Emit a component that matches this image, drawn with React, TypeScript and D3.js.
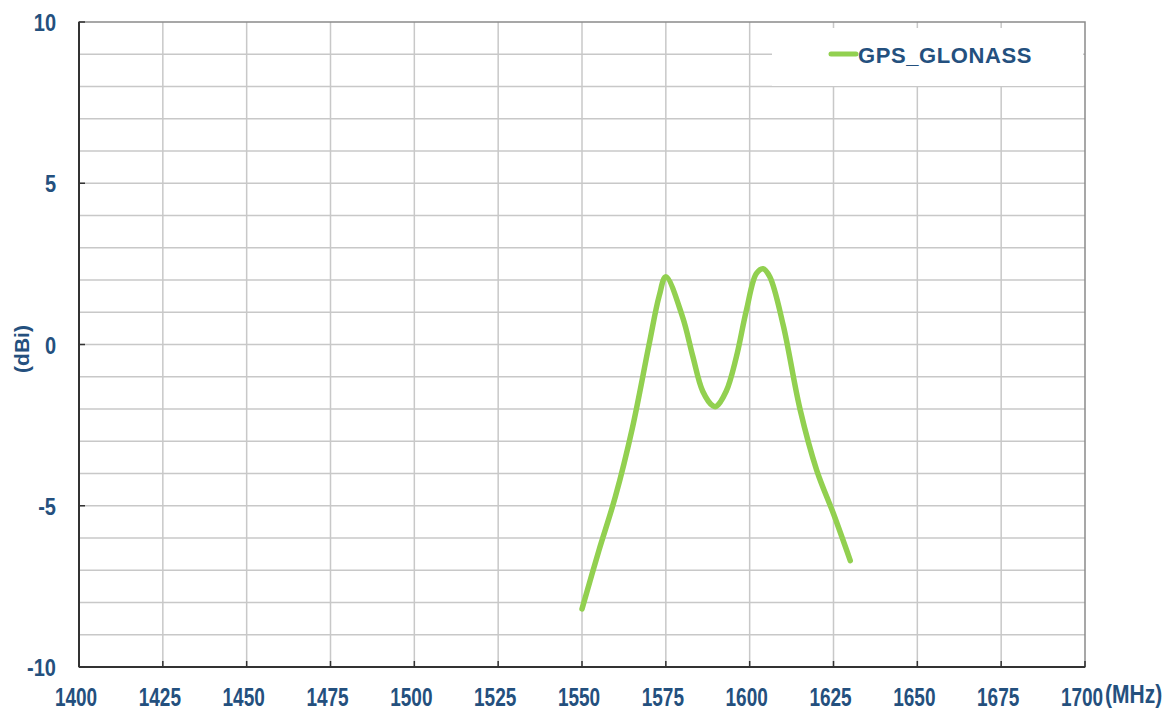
import { useEffect, useRef } from 'react';
import * as d3 from 'd3';

const frequencies = [
  1550, 1555, 1560, 1565, 1570, 1573, 1575, 1580, 1583, 1586, 1589, 1590, 1593, 1596, 1599,
  1602, 1604, 1606, 1610, 1615, 1620, 1625, 1630,
];
const gainValues = [
  -8.2, -6.4, -4.7, -2.6, 0.0, 1.5, 2.1, 0.85, -0.35, -1.45, -1.9, -1.92, -1.45, -0.4, 1.05,
  2.2, 2.35, 2.1, 0.6, -2.0, -3.9, -5.25, -6.7,
];
const seriesName = 'GPS_GLONASS';
const xTicks = [1400, 1425, 1450, 1475, 1500, 1525, 1550, 1575, 1600, 1625, 1650, 1675, 1700];
const yTicks = [10, 5, 0, -5, -10];

const TEXT = '#24507e';
const GREEN = '#92d050';
const FONT = "'Liberation Sans', Arial, sans-serif";

export default function App() {
  const svgRef = useRef<SVGSVGElement>(null);

  useEffect(() => {
    if (!svgRef.current) return;
    const svg = d3.select(svgRef.current);
    svg.selectAll('*').remove();

    const left = 79;
    const right = 1085;
    const top = 22;
    const bottom = 667;

    const x = d3.scaleLinear().domain([1400, 1700]).range([left, right]);
    const y = d3.scaleLinear().domain([-10, 10]).range([bottom, top]);

    const g = svg.append('g');

    // grid
    g.selectAll('.hgrid')
      .data(d3.range(-9, 10))
      .enter()
      .append('line')
      .attr('x1', left)
      .attr('x2', right)
      .attr('y1', (d) => y(d))
      .attr('y2', (d) => y(d))
      .attr('stroke', '#c8c8c8')
      .attr('stroke-width', 1.5);

    g.selectAll('.vgrid')
      .data(xTicks.slice(1, -1))
      .enter()
      .append('line')
      .attr('x1', (d) => x(d))
      .attr('x2', (d) => x(d))
      .attr('y1', top)
      .attr('y2', bottom)
      .attr('stroke', '#c8c8c8')
      .attr('stroke-width', 1.5);

    // frame
    g.append('rect')
      .attr('x', left)
      .attr('y', top)
      .attr('width', right - left)
      .attr('height', bottom - top)
      .attr('fill', 'none')
      .attr('stroke', '#8a8a8a')
      .attr('stroke-width', 1.5);

    // legend box
    g.append('rect')
      .attr('x', 772)
      .attr('y', 28)
      .attr('width', 311)
      .attr('height', 58)
      .attr('fill', '#fff');

    // axes lines
    g.append('line')
      .attr('x1', left)
      .attr('x2', left)
      .attr('y1', top)
      .attr('y2', bottom)
      .attr('stroke', '#333')
      .attr('stroke-width', 2);
    g.append('line')
      .attr('x1', left)
      .attr('x2', right)
      .attr('y1', bottom)
      .attr('y2', bottom)
      .attr('stroke', '#333')
      .attr('stroke-width', 2);

    // tick marks
    g.selectAll('.xtick')
      .data(xTicks)
      .enter()
      .append('line')
      .attr('x1', (d) => x(d))
      .attr('x2', (d) => x(d))
      .attr('y1', bottom)
      .attr('y2', bottom - 6)
      .attr('stroke', '#333')
      .attr('stroke-width', 1.5);
    g.selectAll('.ytick')
      .data(yTicks)
      .enter()
      .append('line')
      .attr('x1', left)
      .attr('x2', left + 6)
      .attr('y1', (d) => y(d))
      .attr('y2', (d) => y(d))
      .attr('stroke', '#333')
      .attr('stroke-width', 1.5);

    // tick labels (the source type is tall and narrow, so stretch vertically)
    g.selectAll('.xlabel')
      .data(xTicks)
      .enter()
      .append('text')
      .attr('transform', (d) => `translate(${x(d) - 3},706) scale(1,1.35)`)
      .attr('text-anchor', 'middle')
      .attr('font-family', FONT)
      .attr('font-weight', 'bold')
      .attr('font-size', 19)
      .attr('fill', TEXT)
      .text((d) => String(d));

    g.append('text')
      .attr('transform', 'translate(1105,703) scale(1,1.2)')
      .attr('font-family', FONT)
      .attr('font-weight', 'bold')
      .attr('font-size', 21)
      .attr('fill', TEXT)
      .text('(MHz)');

    g.selectAll('.ylabel')
      .data(yTicks)
      .enter()
      .append('text')
      .attr('transform', (d) => `translate(56,${y(d) + 9}) scale(1,1.2)`)
      .attr('text-anchor', 'end')
      .attr('font-family', FONT)
      .attr('font-weight', 'bold')
      .attr('font-size', 20)
      .attr('fill', TEXT)
      .text((d) => String(d));

    g.append('text')
      .attr('transform', 'translate(29,349) rotate(-90)')
      .attr('text-anchor', 'middle')
      .attr('font-family', FONT)
      .attr('font-weight', 'bold')
      .attr('font-size', 21)
      .attr('fill', TEXT)
      .text('(dBi)');

    // series
    const points = frequencies.map((f, i) => [f, gainValues[i]] as [number, number]);
    const line = d3
      .line<[number, number]>()
      .x((d) => x(d[0]))
      .y((d) => y(d[1]))
      .curve(d3.curveCatmullRom.alpha(0.5));

    g.append('path')
      .datum(points)
      .attr('d', line)
      .attr('fill', 'none')
      .attr('stroke', GREEN)
      .attr('stroke-width', 5.5)
      .attr('stroke-linecap', 'round')
      .attr('stroke-linejoin', 'round');

    // legend
    g.append('line')
      .attr('x1', 831)
      .attr('x2', 856)
      .attr('y1', 54)
      .attr('y2', 54)
      .attr('stroke', GREEN)
      .attr('stroke-width', 5)
      .attr('stroke-linecap', 'round');
    g.append('text')
      .attr('x', 858)
      .attr('y', 62.5)
      .attr('font-family', FONT)
      .attr('font-weight', 'bold')
      .attr('font-size', 22)
      .attr('letter-spacing', 0.6)
      .attr('fill', TEXT)
      .text(seriesName);
  }, []);

  return (
    <svg
      ref={svgRef}
      width={1173}
      height={711}
      style={{ position: 'absolute', left: 0, top: 0, background: '#fff' }}
    />
  );
}
